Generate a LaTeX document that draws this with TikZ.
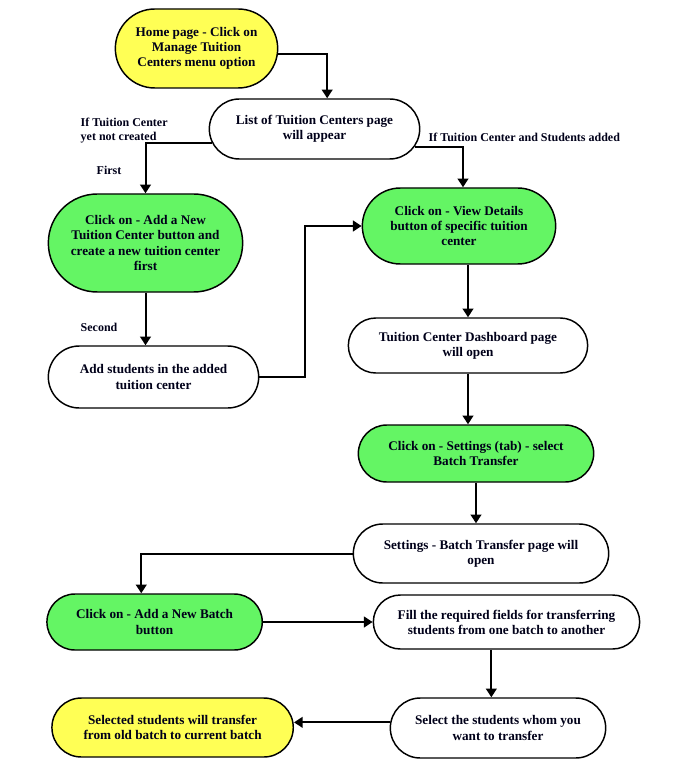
\documentclass[tikz,border=0pt]{standalone}
\usepackage{fontspec}
\setmainfont{Liberation Serif}
\usepackage{tikz}
\usetikzlibrary{shapes.misc,arrows.meta,calc}

\begin{document}
\begin{tikzpicture}[x=0.75pt,y=-0.75pt]
\tikzstyle{step box}=[rounded rectangle,draw=black,line width=1.1pt,align=center,inner sep=1pt,
  font=\bfseries\fontsize{9.9}{11.3}\selectfont,text=black!90!blue]
\tikzstyle{yellowbox}=[step box,fill={rgb,255:red,255;green,255;blue,85}]
\tikzstyle{greenbox}=[step box,fill={rgb,255:red,100;green,245;blue,100}]
\tikzstyle{whitebox}=[step box,fill=white]
\tikzstyle{flow}=[line width=1.5pt,-{Triangle[length=6.5pt,width=8pt]}]
\tikzstyle{note}=[align=left,font=\bfseries\fontsize{9}{10.5}\selectfont,text=black!90!blue]
\useasboundingbox (0,0) rectangle (699,780);
% boxes
\node[yellowbox,minimum width=123.75pt,minimum height=59.25pt] (home) at (196.5,48.5) {Home page - Click on\\Manage Tuition\\Centers menu option};
\node[whitebox,minimum width=159.75pt,minimum height=45pt] (list) at (314.5,129) {List of Tuition Centers page\\will appear};
\node[greenbox,minimum width=147.75pt,minimum height=73.5pt] (addtc) at (145.5,243) {Click on - Add a New\\Tuition Center button and\\create a new tuition center\\first};
\node[greenbox,minimum width=147pt,minimum height=57pt] (view) at (459,226) {Click on - View Details\\button of specific tuition\\center};
\node[whitebox,minimum width=159.75pt,minimum height=46.5pt] (addst) at (153.5,377) {Add students in the added\\tuition center};
\node[whitebox,minimum width=181.5pt,minimum height=41.25pt] (dash) at (468,345.5) {Tuition Center Dashboard page\\will open};
\node[greenbox,minimum width=178.5pt,minimum height=42.75pt] (settings) at (476,453.5) {Click on - Settings (tab) - select\\Batch Transfer};
\node[whitebox,minimum width=193.5pt,minimum height=44.25pt] (batch) at (481,553.5) {Settings - Batch Transfer page will\\open};
\node[greenbox,minimum width=163.5pt,minimum height=42pt] (addbatch) at (154.6,622) {Click on - Add a New Batch\\button};
\node[whitebox,minimum width=201.75pt,minimum height=40.5pt] (fill) at (506.5,622) {Fill the required fields for transferring\\students from one batch to another};
\node[whitebox,minimum width=163.5pt,minimum height=45pt] (select) at (498,728) {Select the students whom you\\want to transfer};
\node[yellowbox,minimum width=183pt,minimum height=44.25pt] (selected) at (172.6,727.5) {Selected students will transfer\\from old batch to current batch};
% labels
\node[note,anchor=west] (notcreated) at (76,131) {If Tuition Center\\yet not created};
\node[note,anchor=west] (added) at (424,137) {If Tuition Center and Students added};
\node[note,anchor=west] (first) at (92,170) {First};
\node[note,anchor=west] (second) at (76,327) {Second};
% arrows
\draw[flow] (home.-4) -| ([xshift=98pt]home.north |- list.north);
\draw[flow] (list.188) -| (addtc.north);
\draw[flow] (list.350) -| ([xshift=3pt]view.north);
\draw[flow] (addtc.south) -- (addtc.south |- addst.north);
\draw[flow] (addst.east) -- ([xshift=34pt]addst.east) |- (view.west);
\draw[flow] (dash.north |- view.south) -- (dash.north);
\draw[flow] (dash.south) -- (dash.south |- settings.north);
\draw[flow] (settings.south) -- (settings.south |- batch.north);
\draw[flow] (batch.west) -| ([xshift=-10pt]addbatch.north);
\draw[flow] (addbatch.east) -- (fill.west);
\draw[flow] ([xshift=-5pt]select.north |- fill.south) -- ([xshift=-5pt]select.north);
\draw[flow] (select.177) -- (select.177 -| selected.east);
\end{tikzpicture}
\end{document}
